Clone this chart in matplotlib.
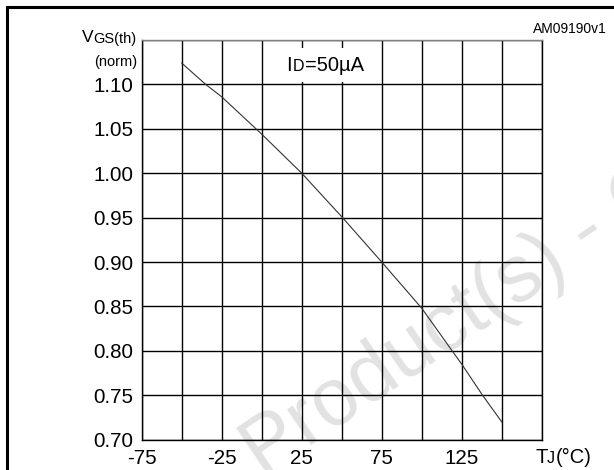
# -*- coding: utf-8 -*-
# VGS(th) normalised vs junction temperature

# %% Imports
import numpy as np
import matplotlib
matplotlib.use("Agg")
import matplotlib.pyplot as plt
from matplotlib.patches import Rectangle

plt.rcParams['font.family'] = ['Liberation Sans', 'DejaVu Sans']

# %% Data
temp_c = [-50, -35, -25, 0, 25, 50, 75, 100, 119, 125, 138, 150]
vgs_norm = [1.124, 1.100, 1.086, 1.044, 1.000, 0.951, 0.900, 0.848, 0.800,
            0.785, 0.750, 0.720]

x_ticks = np.arange(-75, 176, 25)
x_labels = ['-75', '', '-25', '', '25', '', '75', '', '125', '', '']
y_ticks = np.arange(0.70, 1.151, 0.05)
y_labels = ['0.70', '0.75', '0.80', '0.85', '0.90', '0.95', '1.00', '1.05',
            '1.10', '']

W, H = 614, 470


def px(x, y):
    # pixel position (from top left) -> figure fraction
    return x / W, 1 - y / H


# %% Plot
fig = plt.figure(figsize=(W / 100, H / 100), dpi=100)
ax = fig.add_axes([141.7 / W, 1 - 439.6 / H, 400 / W, 399.6 / H])
ax.set_facecolor('none')

ax.plot(temp_c, vgs_norm, color='#333333', lw=0.8, zorder=3)

ax.set_xlim(-75, 175)
ax.set_ylim(0.70, 1.15)
ax.set_xticks(x_ticks)
ax.set_xticklabels(x_labels)
ax.set_yticks(y_ticks)
ax.set_yticklabels(y_labels)
ax.tick_params(length=0, labelsize=14.8, colors='black')
ax.tick_params(axis='y', pad=6)
ax.tick_params(axis='x', pad=7)
ax.set_axisbelow(True)
ax.grid(True, color='black', lw=1.0)
for s in ax.spines.values():
    s.set_linewidth(1.0)
ax.spines['top'].set_color('#808080')

# white box behind the ID label
ax.add_patch(Rectangle((0.311, 0.895), 0.28, 0.085, transform=ax.transAxes,
                       facecolor='white', edgecolor='none', zorder=2))

# texts
fig.text(*px(286, 70.7), 'I', fontsize=14.5, va='baseline', zorder=5)
fig.text(*px(292.5, 70.7), 'D', fontsize=11.5, va='baseline', zorder=5)
fig.text(*px(304.5, 70.7), '=50µA', fontsize=14.5, va='baseline', zorder=5)

t_gs = fig.text(*px(136.7, 43), 'GS(th)', fontsize=10.5, ha='right',
                va='baseline')
fig.text(*px(137, 66), '(norm)', fontsize=10.5, ha='right', va='baseline')
ax.annotate('V', xy=(0, 0), xycoords=t_gs, xytext=(0, 0.5),
            textcoords='offset points', fontsize=12.5, ha='right',
            va='bottom', annotation_clip=False)

fig.text(*px(535, 463.3), 'T', fontsize=14.5, va='baseline')
fig.text(*px(547, 463.3), 'J', fontsize=11.5, va='baseline')
fig.text(*px(555.5, 463.3), '(°C)', fontsize=14.5, va='baseline')

fig.text(*px(606.7, 32.7), 'AM09190v1', fontsize=10, ha='right',
         va='baseline')

# watermark
fig.text(*px(262, 478), 'Product(s) - Obsolete', fontsize=58,
         color='#e2e2e2', rotation=34, rotation_mode='anchor',
         ha='left', va='baseline', zorder=-1)

# outer frame (only top and left edges fall inside the picture)
fig.add_artist(Rectangle(px(6.5, 520), 1.2, (520 - 6.5) / H,
                         transform=fig.transFigure, fill=False,
                         lw=2.2, edgecolor='black'))

fig.savefig('out.png', dpi=100)
